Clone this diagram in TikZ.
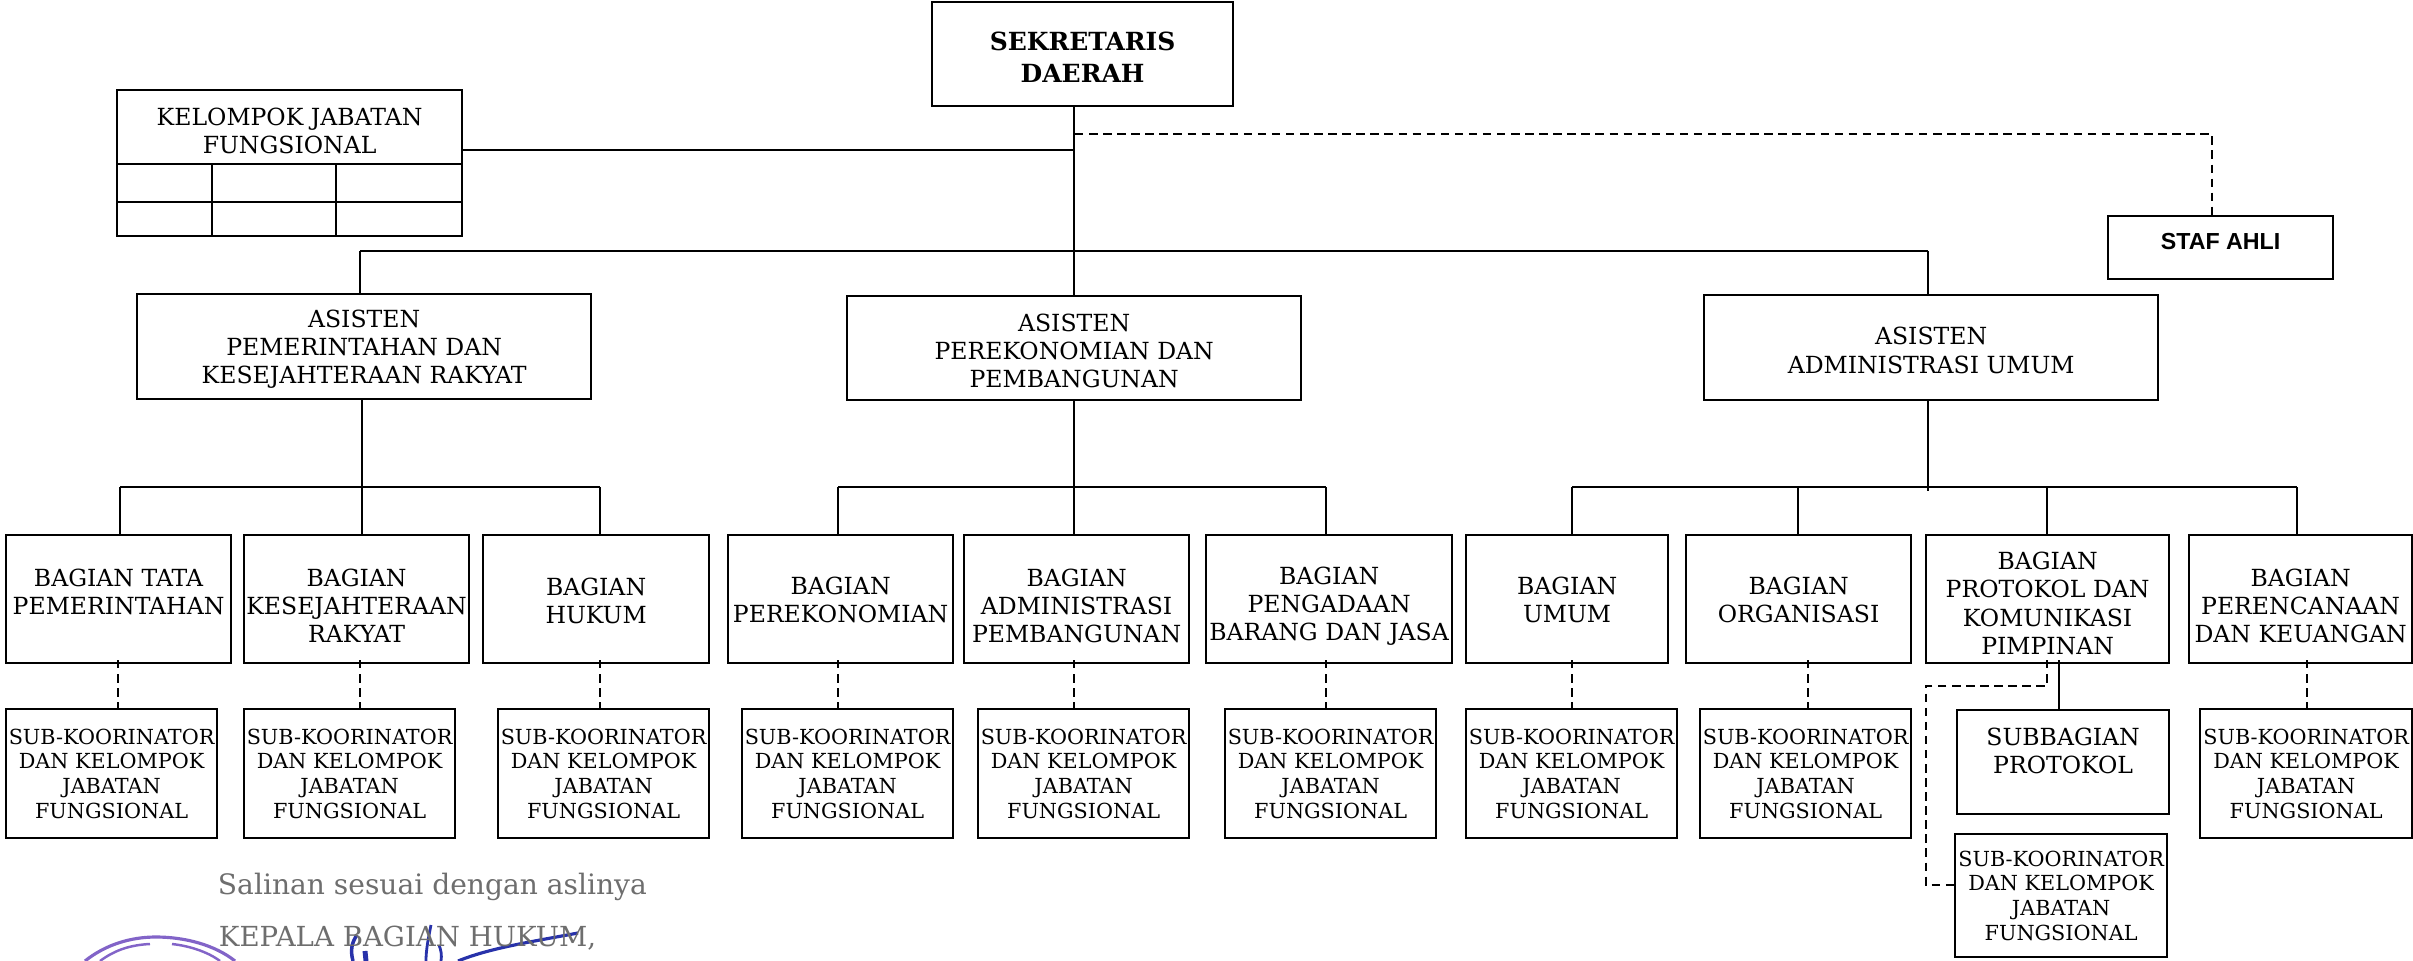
\documentclass[tikz,border=0pt]{standalone}
\usepackage{fontspec}
\setmainfont{DejaVu Serif}
\newfontfamily\stafont{Liberation Sans}
\usepackage{xcolor}
\definecolor{gray_copy}{RGB}{110,110,110}
\definecolor{blue_sign}{RGB}{40,50,170}
\definecolor{purple_stamp}{RGB}{130,100,200}
\newcommand{\dnpad}[1]{\rule{0pt}{#1}}
\newcommand{\uppad}[1]{\rule[-#1]{0pt}{#1}}

\begin{document}
\begin{tikzpicture}[x=0.01cm,y=-0.01cm,line width=0.55pt]
    \tikzstyle{every node}=[font=\fontsize{6.7}{8}\selectfont]
    \tikzstyle{box}=[draw,align=center,inner sep=0pt,outer sep=0pt,anchor=north west]
    \tikzstyle{sub}=[box,font=\fontsize{5.9}{7}\selectfont]
    \tikzstyle{dashline}=[dash pattern=on 2.4pt off 1.6pt]
    \useasboundingbox (0,0) rectangle (2413,961);

    \node[box,minimum width=3.01cm,minimum height=1.04cm,font=\fontsize{7.1}{9.1}\selectfont\bfseries] (sekda) at (932,2) {\dnpad{7pt}SEKRETARIS\\DAERAH};
    \node[box,minimum width=2.25cm,minimum height=0.63cm,font=\fontsize{6.6}{8}\stafont\bfseries] (staf) at (2108,216) {STAF AHLI\uppad{3.4pt}};

    % kelompok jabatan with its small table
    \node[box,minimum width=3.45cm,minimum height=0.74cm] (kelompok) at (117,90) {\dnpad{7.1pt}KELOMPOK JABATAN\\FUNGSIONAL};
    \node[box,minimum width=0.95cm,minimum height=0.38cm] (k11) at (kelompok.south west) {};
    \node[box,minimum width=1.24cm,minimum height=0.38cm] (k12) at (k11.north east) {};
    \node[box,minimum width=1.26cm,minimum height=0.38cm] (k13) at (k12.north east) {};
    \node[box,minimum width=0.95cm,minimum height=0.34cm] (k21) at (k11.south west) {};
    \node[box,minimum width=1.24cm,minimum height=0.34cm] (k22) at (k21.north east) {};
    \node[box,minimum width=1.26cm,minimum height=0.34cm] (k23) at (k22.north east) {};

    \node[box,minimum width=4.54cm,minimum height=1.05cm] (asisten1) at (137,294) {\dnpad{6.3pt}ASISTEN\\PEMERINTAHAN DAN\\KESEJAHTERAAN RAKYAT};
    \node[box,minimum width=4.54cm,minimum height=1.04cm] (asisten2) at (847,296) {\dnpad{6.6pt}ASISTEN\\PEREKONOMIAN DAN\\PEMBANGUNAN};
    \node[box,minimum width=4.54cm,minimum height=1.05cm] (asisten3) at (1704,295) {\dnpad{6.6pt}ASISTEN\\ADMINISTRASI UMUM};

    \node[box,minimum width=2.25cm,minimum height=1.28cm] (bagian1) at (6,535) {BAGIAN TATA\\PEMERINTAHAN\uppad{4pt}};
    \node[box,minimum width=2.25cm,minimum height=1.28cm] (bagian2) at (244,535) {\dnpad{8.9pt}BAGIAN\\KESEJAHTERAAN\\RAKYAT};
    \node[box,minimum width=2.26cm,minimum height=1.28cm] (bagian3) at (483,535) {\dnpad{6.1pt}BAGIAN\\HUKUM};
    \node[box,minimum width=2.25cm,minimum height=1.28cm] (bagian4) at (728,535) {\dnpad{5.3pt}BAGIAN\\PEREKONOMIAN};
    \node[box,minimum width=2.25cm,minimum height=1.28cm] (bagian5) at (964,535) {\dnpad{8.9pt}BAGIAN\\ADMINISTRASI\\PEMBANGUNAN};
    \node[box,minimum width=2.46cm,minimum height=1.28cm] (bagian6) at (1206,535) {\dnpad{8.9pt}BAGIAN\\PENGADAAN\\BARANG DAN JASA};
    \node[box,minimum width=2.02cm,minimum height=1.28cm] (bagian7) at (1466,535) {\dnpad{5.3pt}BAGIAN\\UMUM};
    \node[box,minimum width=2.25cm,minimum height=1.28cm] (bagian8) at (1686,535) {\dnpad{5.3pt}BAGIAN\\ORGANISASI};
    \node[box,minimum width=2.43cm,minimum height=1.28cm] (bagian9) at (1926,535) {\dnpad{7.5pt}BAGIAN\\PROTOKOL DAN\\KOMUNIKASI\\PIMPINAN};
    \node[box,minimum width=2.23cm,minimum height=1.28cm] (bagian10) at (2189,535) {\dnpad{8.9pt}BAGIAN\\PERENCANAAN\\DAN KEUANGAN};

    \node[sub,minimum width=2.11cm,minimum height=1.29cm] (sub1) at (6,709) {SUB-KOORINATOR\\DAN KELOMPOK\\JABATAN\\FUNGSIONAL};
    \node[sub,minimum width=2.11cm,minimum height=1.29cm] (sub2) at (244,709) {SUB-KOORINATOR\\DAN KELOMPOK\\JABATAN\\FUNGSIONAL};
    \node[sub,minimum width=2.11cm,minimum height=1.29cm] (sub3) at (498,709) {SUB-KOORINATOR\\DAN KELOMPOK\\JABATAN\\FUNGSIONAL};
    \node[sub,minimum width=2.11cm,minimum height=1.29cm] (sub4) at (742,709) {SUB-KOORINATOR\\DAN KELOMPOK\\JABATAN\\FUNGSIONAL};
    \node[sub,minimum width=2.11cm,minimum height=1.29cm] (sub5) at (978,709) {SUB-KOORINATOR\\DAN KELOMPOK\\JABATAN\\FUNGSIONAL};
    \node[sub,minimum width=2.11cm,minimum height=1.29cm] (sub6) at (1225,709) {SUB-KOORINATOR\\DAN KELOMPOK\\JABATAN\\FUNGSIONAL};
    \node[sub,minimum width=2.11cm,minimum height=1.29cm] (sub7) at (1466,709) {SUB-KOORINATOR\\DAN KELOMPOK\\JABATAN\\FUNGSIONAL};
    \node[sub,minimum width=2.11cm,minimum height=1.29cm] (sub8) at (1700,709) {SUB-KOORINATOR\\DAN KELOMPOK\\JABATAN\\FUNGSIONAL};
    \node[box,minimum width=2.12cm,minimum height=1.04cm] (subbagian) at (1957,710) {SUBBAGIAN\\PROTOKOL\uppad{6.2pt}};
    \node[sub,minimum width=2.12cm,minimum height=1.23cm] (sub9) at (1955,834) {SUB-KOORINATOR\\DAN KELOMPOK\\JABATAN\\FUNGSIONAL};
    \node[sub,minimum width=2.12cm,minimum height=1.29cm] (sub10) at (2200,709) {SUB-KOORINATOR\\DAN KELOMPOK\\JABATAN\\FUNGSIONAL};

    \coordinate (trunk_top) at (1074,106);
    \coordinate (trunk_k)   at (1074,150);
    \coordinate (trunk_d)   at (1075,134);
    \coordinate (trunk_s)   at (2212,134);
    \coordinate (bus_l)     at (360,251);
    \coordinate (bus_r)     at (1928,251);

    \draw (trunk_top) -- (trunk_top |- asisten2.north);
    \draw (kelompok.east |- trunk_k) -- (trunk_k);
    \draw (bus_l) -- (bus_r);
    \draw (bus_l) -- (bus_l |- asisten1.north);
    \draw (bus_r) -- (bus_r |- asisten3.north);
    \draw[dashline] (trunk_d) -- (trunk_s) -- (trunk_s |- staf.north);

    % first group
    \coordinate (bus1_l) at (120,487);
    \coordinate (bus1_m) at (362,487);
    \coordinate (bus1_r) at (600,487);
    \draw (bus1_l) -- (bus1_r);
    \draw (bus1_m |- asisten1.south) -- (bus1_m |- bagian2.north);
    \draw (bus1_l) -- (bus1_l |- bagian1.north);
    \draw (bus1_r) -- (bus1_r |- bagian3.north);

    % second group
    \coordinate (bus2_l) at (838,487);
    \coordinate (bus2_m) at (1074,487);
    \coordinate (bus2_r) at (1326,487);
    \draw (bus2_l) -- (bus2_r);
    \draw (bus2_m |- asisten2.south) -- (bus2_m |- bagian5.north);
    \draw (bus2_l) -- (bus2_l |- bagian4.north);
    \draw (bus2_r) -- (bus2_r |- bagian6.north);

    % third group
    \coordinate (bus3_a) at (1572,487);
    \coordinate (bus3_b) at (1798,487);
    \coordinate (bus3_c) at (2047,487);
    \coordinate (bus3_d) at (2297,487);
    \coordinate (bus3_m) at (1928,491);
    \draw (bus3_a) -- (bus3_d);
    \draw (bus3_m |- asisten3.south) -- (bus3_m);
    \draw (bus3_a) -- (bus3_a |- bagian7.north);
    \draw (bus3_b) -- (bus3_b |- bagian8.north);
    \draw (bus3_c) -- (bus3_c |- bagian9.north);
    \draw (bus3_d) -- (bus3_d |- bagian10.north);

    % dashed links to the sub boxes
    \coordinate (dash1)  at (118,660);
    \coordinate (dash2)  at (360,660);
    \coordinate (dash3)  at (600,660);
    \coordinate (dash4)  at (838,660);
    \coordinate (dash5)  at (1074,660);
    \coordinate (dash6)  at (1326,660);
    \coordinate (dash7)  at (1572,660);
    \coordinate (dash8)  at (1808,660);
    \coordinate (dash10) at (2307,660);
    \draw[dashline] (dash1) -- (dash1 |- sub1.north);
    \draw[dashline] (dash2) -- (dash2 |- sub2.north);
    \draw[dashline] (dash3) -- (dash3 |- sub3.north);
    \draw[dashline] (dash4) -- (dash4 |- sub4.north);
    \draw[dashline] (dash5) -- (dash5 |- sub5.north);
    \draw[dashline] (dash6) -- (dash6 |- sub6.north);
    \draw[dashline] (dash7) -- (dash7 |- sub7.north);
    \draw[dashline] (dash8) -- (dash8 |- sub8.north);
    \draw[dashline] (dash10) -- (dash10 |- sub10.north);

    % protokol links
    \coordinate (prot_s) at (2059,660);
    \coordinate (prot_d) at (2047,660);
    \coordinate (prot_c) at (2047,686);
    \coordinate (prot_e) at (1926,885);
    \draw (prot_s) -- (prot_s |- subbagian.north);
    \draw[dashline] (prot_d) -- (prot_c) -- (prot_c -| prot_e) -- (prot_e) -- (prot_e -| sub9.west);

    % stamp and signature, cut by the page edge
    \draw[purple_stamp,line width=0.9pt] (85,961) .. controls (105,945) and (130,937) .. (156,937) .. controls (185,937) and (215,945) .. (235,961);
    \draw[purple_stamp,line width=0.7pt] (100,961) .. controls (115,950) and (130,945) .. (150,944);
    \draw[purple_stamp,line width=0.7pt] (172,944) .. controls (190,946) and (208,952) .. (220,961);
    \draw[blue_sign,line width=1pt] (353,961) .. controls (350,950) and (352,942) .. (357,935);
    \draw[blue_sign,line width=1.4pt] (366,961) -- (365,951);
    \draw[blue_sign,line width=0.8pt] (426,961) .. controls (426,950) and (428,940) .. (431,925);
    \draw[blue_sign,line width=0.8pt] (441,961) .. controls (442,955) and (441,950) .. (439,945);
    \draw[blue_sign,line width=0.9pt] (458,961) .. controls (490,948) and (530,942) .. (578,933);

    \node[anchor=west,text=gray_copy,inner sep=0pt,font=\fontsize{8}{9}\selectfont] (salinan) at (217,887) {Salinan sesuai dengan aslinya};
    \node[anchor=west,text=gray_copy,inner sep=0pt,font=\fontsize{7.85}{9}\selectfont] (kepala) at (218,938) {KEPALA BAGIAN HUKUM,};
\end{tikzpicture}
\end{document}
